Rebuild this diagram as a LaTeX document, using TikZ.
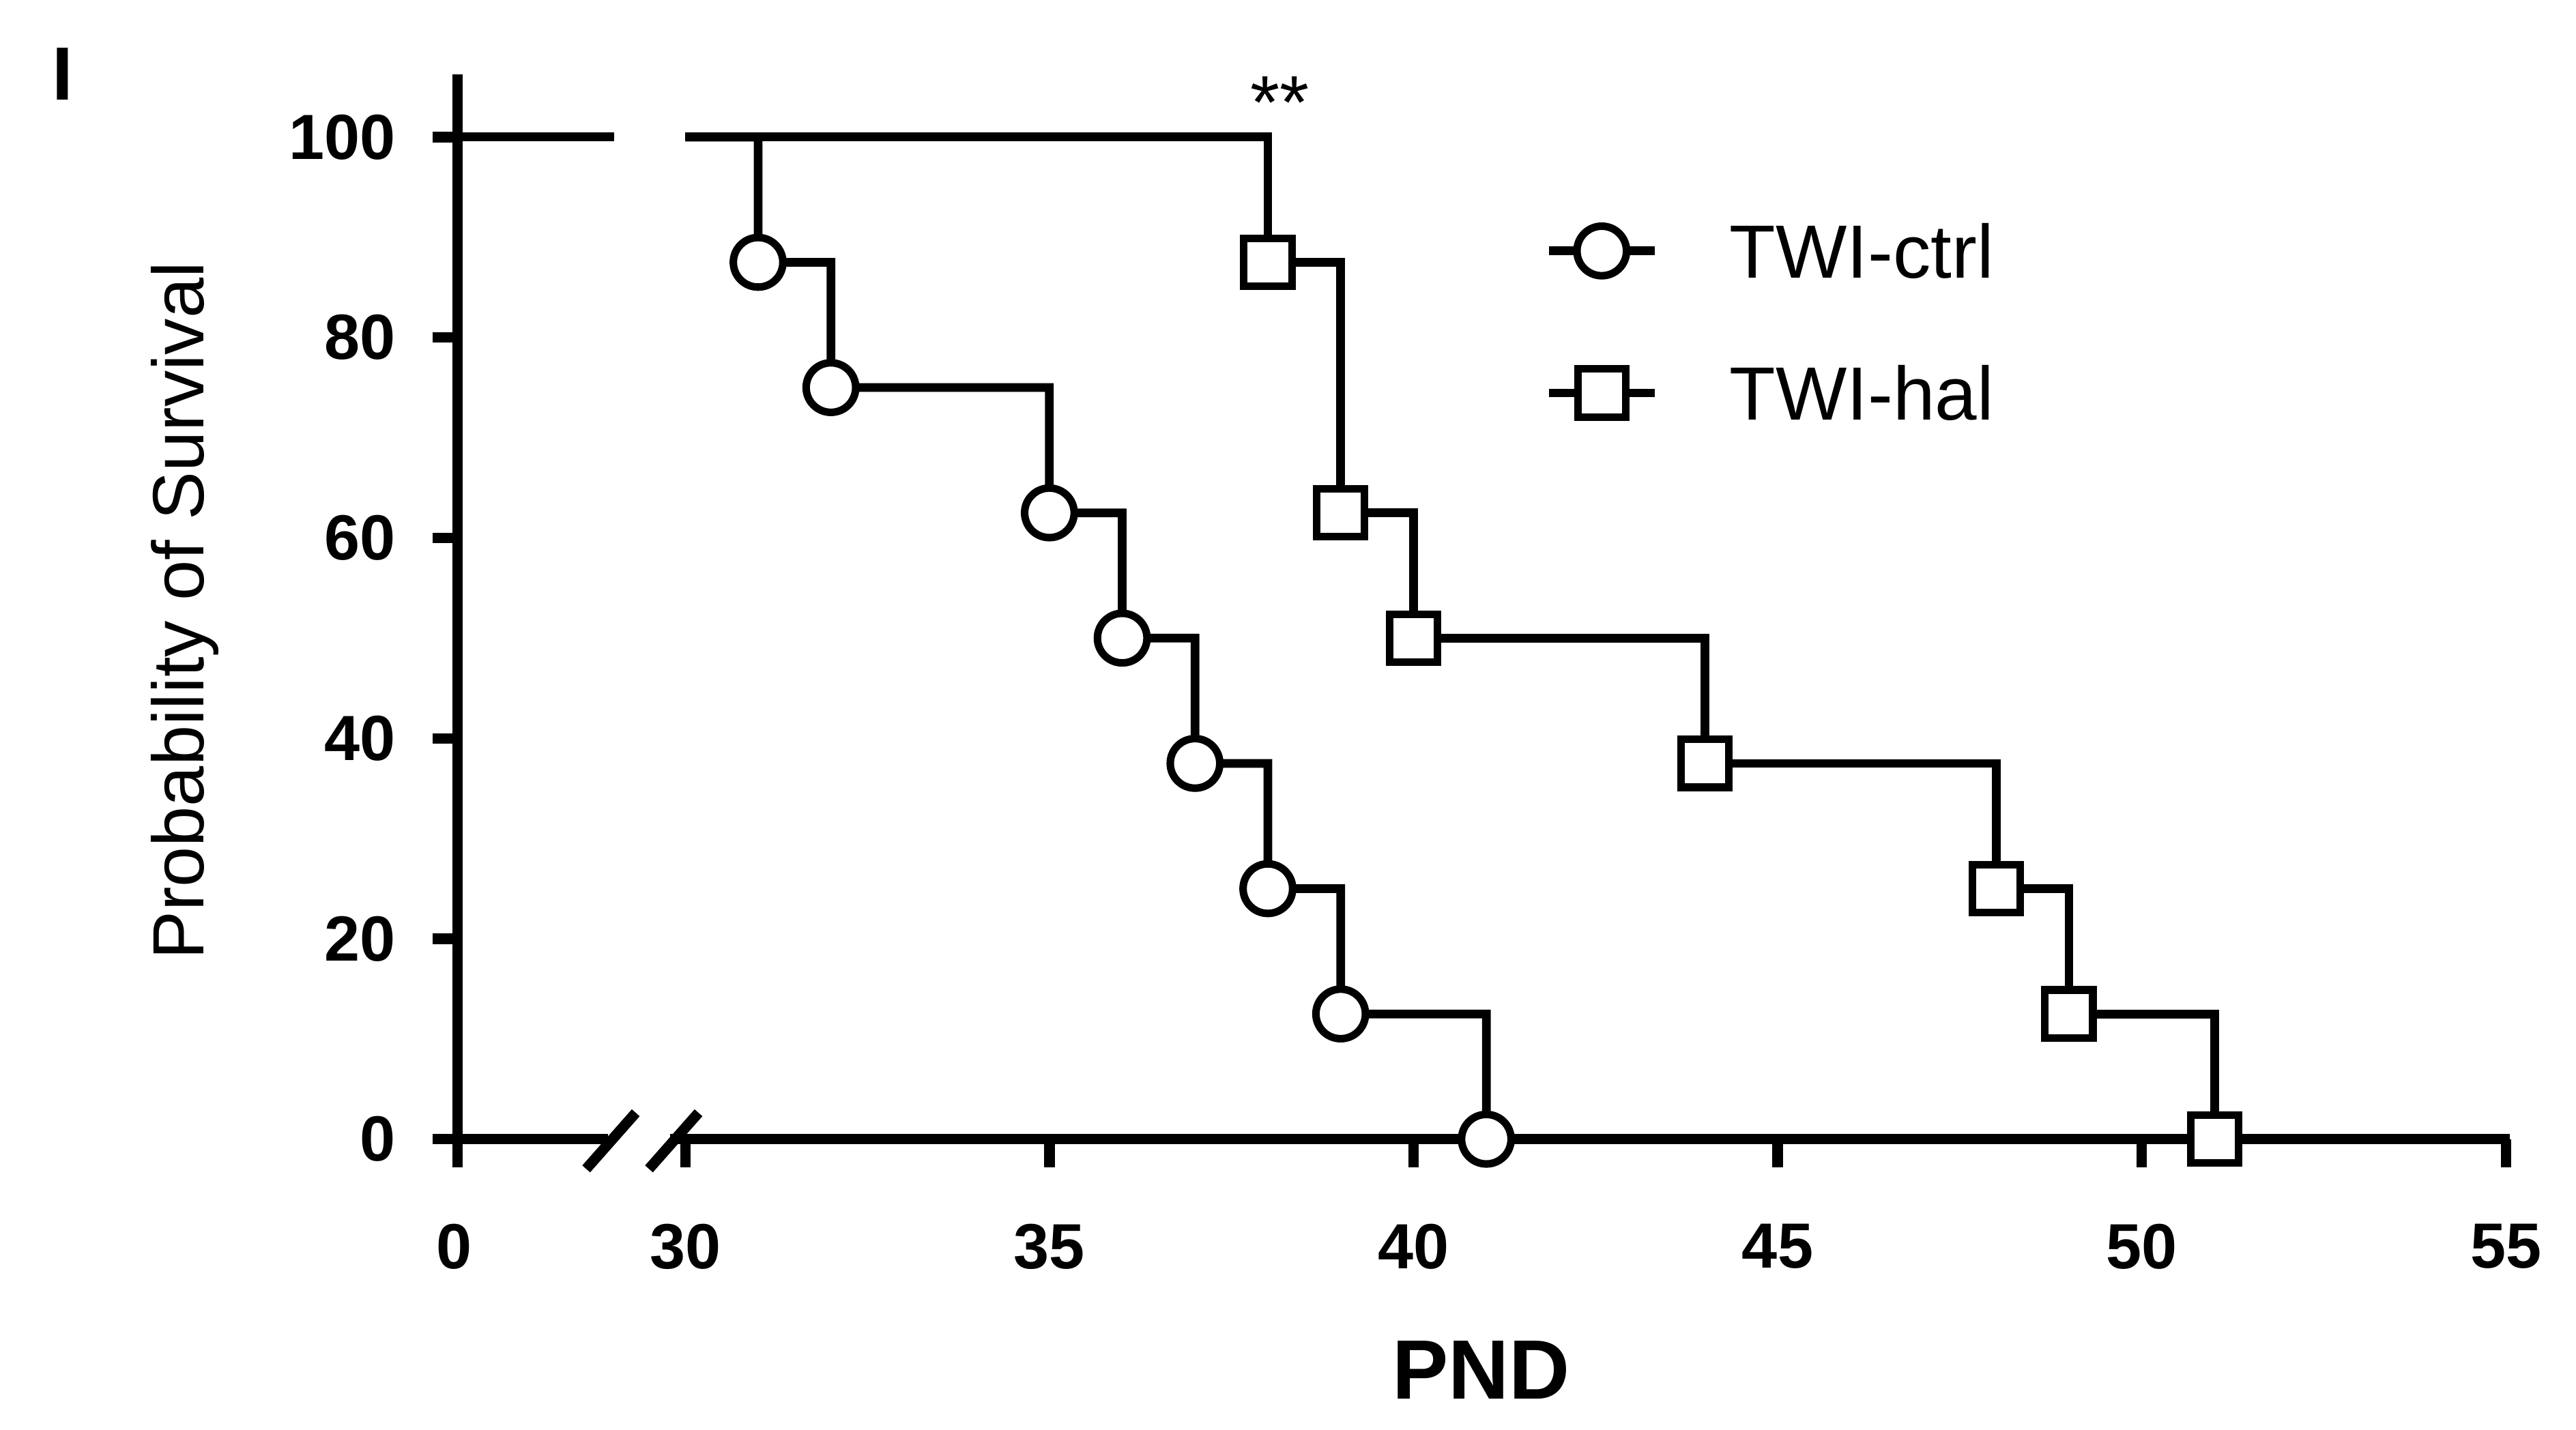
\documentclass[tikz,border=0pt]{standalone}
\usepackage{fontspec}
\setmainfont{Liberation Sans}
\begin{document}
\begin{tikzpicture}[x=0.01cm,y=-0.01cm,
  ln/.style={line width=1.5pt},
  ax/.style={line width=1.8pt},
  tk/.style={font=\bfseries\fontsize{11}{12}\selectfont},
  circ/.style={circle,draw,line width=1.3pt,fill=white,minimum size=0.3cm,inner sep=0pt},
  sq/.style={rectangle,draw,line width=1.3pt,fill=white,minimum size=0.29cm,inner sep=0pt}]
\useasboundingbox (0,0) rectangle (1560,866);
\def\X#1{(415+44.1*(#1-30))}
\def\Y#1{(690-6.07*#1)}
% axes
\draw[ax] (277,45) -- (277,690);
\draw[ax] (277,690) -- (368,690);
\draw[ax] (406,690) -- (1520,690);
\draw[ax] (355,708) -- (385,674);
\draw[ax] (393,708) -- (423,674);
\foreach \p in {0,20,...,100}{
  \draw[ax] (262,{690-6.07*\p}) -- (277,{690-6.07*\p});
  \node[tk,anchor=east] at (252,{690-6.07*\p}) {\p};}
\draw[ax] (277,690) -- (277,707);
\node[tk] at (275,755) {0};
\foreach \d in {30,35,...,55}{
  \draw[ax] ({415+44.1*(\d-30)},690) -- ({415+44.1*(\d-30)},707);
  \node[tk] at ({415+44.1*(\d-30)},755) {\d};}
\node[font=\bfseries\fontsize{14.5}{16}\selectfont] at (897,830) {PND};
\node[rotate=90,font=\fontsize{12.5}{14}\selectfont] at (112,370) {Probability of Survival};
\node[font=\bfseries\fontsize{13}{14}\selectfont] at (38,45) {I};
\node[font=\fontsize{13}{14}\selectfont] at (775,62) {**};
% 100% segment before break
\draw[ln] (277,83) -- (372,83);
% ctrl
\draw[ln] ({415},83) -- ({415+44.1*1},83)
 -- ++(0,{6.07*12.5}) -- ({415+44.1*2},{690-6.07*87.5})
 -- ({415+44.1*2},{690-6.07*75}) -- ({415+44.1*5},{690-6.07*75})
 -- ({415+44.1*5},{690-6.07*62.5}) -- ({415+44.1*6},{690-6.07*62.5})
 -- ({415+44.1*6},{690-6.07*50}) -- ({415+44.1*7},{690-6.07*50})
 -- ({415+44.1*7},{690-6.07*37.5}) -- ({415+44.1*8},{690-6.07*37.5})
 -- ({415+44.1*8},{690-6.07*25}) -- ({415+44.1*9},{690-6.07*25})
 -- ({415+44.1*9},{690-6.07*12.5}) -- ({415+44.1*11},{690-6.07*12.5})
 -- ({415+44.1*11},690);
% hal
\draw[ln] ({415},83) -- ({415+44.1*8},83)
 -- ({415+44.1*8},{690-6.07*87.5}) -- ({415+44.1*9},{690-6.07*87.5})
 -- ({415+44.1*9},{690-6.07*62.5}) -- ({415+44.1*10},{690-6.07*62.5})
 -- ({415+44.1*10},{690-6.07*50}) -- ({415+44.1*14},{690-6.07*50})
 -- ({415+44.1*14},{690-6.07*37.5}) -- ({415+44.1*18},{690-6.07*37.5})
 -- ({415+44.1*18},{690-6.07*25}) -- ({415+44.1*19},{690-6.07*25})
 -- ({415+44.1*19},{690-6.07*12.5}) -- ({415+44.1*21},{690-6.07*12.5})
 -- ({415+44.1*21},690);
\foreach \d/\p in {31/87.5,32/75,35/62.5,36/50,37/37.5,38/25,39/12.5,41/0}
  \node[circ] at ({415+44.1*(\d-30)},{690-6.07*\p}) {};
\foreach \d/\p in {38/87.5,39/62.5,40/50,44/37.5,48/25,49/12.5,51/0}
  \node[sq] at ({415+44.1*(\d-30)},{690-6.07*\p}) {};
% legend
\draw[ln] (938,152) -- (1002,152);
\node[circ] (lc) at (970,152) {};
\node[anchor=west,font=\fontsize{13}{14}\selectfont] at (1035,152) {TWI-ctrl};
\draw[ln] (938,238) -- (1002,238);
\node[sq] (ls) at (970,238) {};
\node[anchor=west,font=\fontsize{13}{14}\selectfont] at (1035,238) {TWI-hal};
\end{tikzpicture}
\end{document}
